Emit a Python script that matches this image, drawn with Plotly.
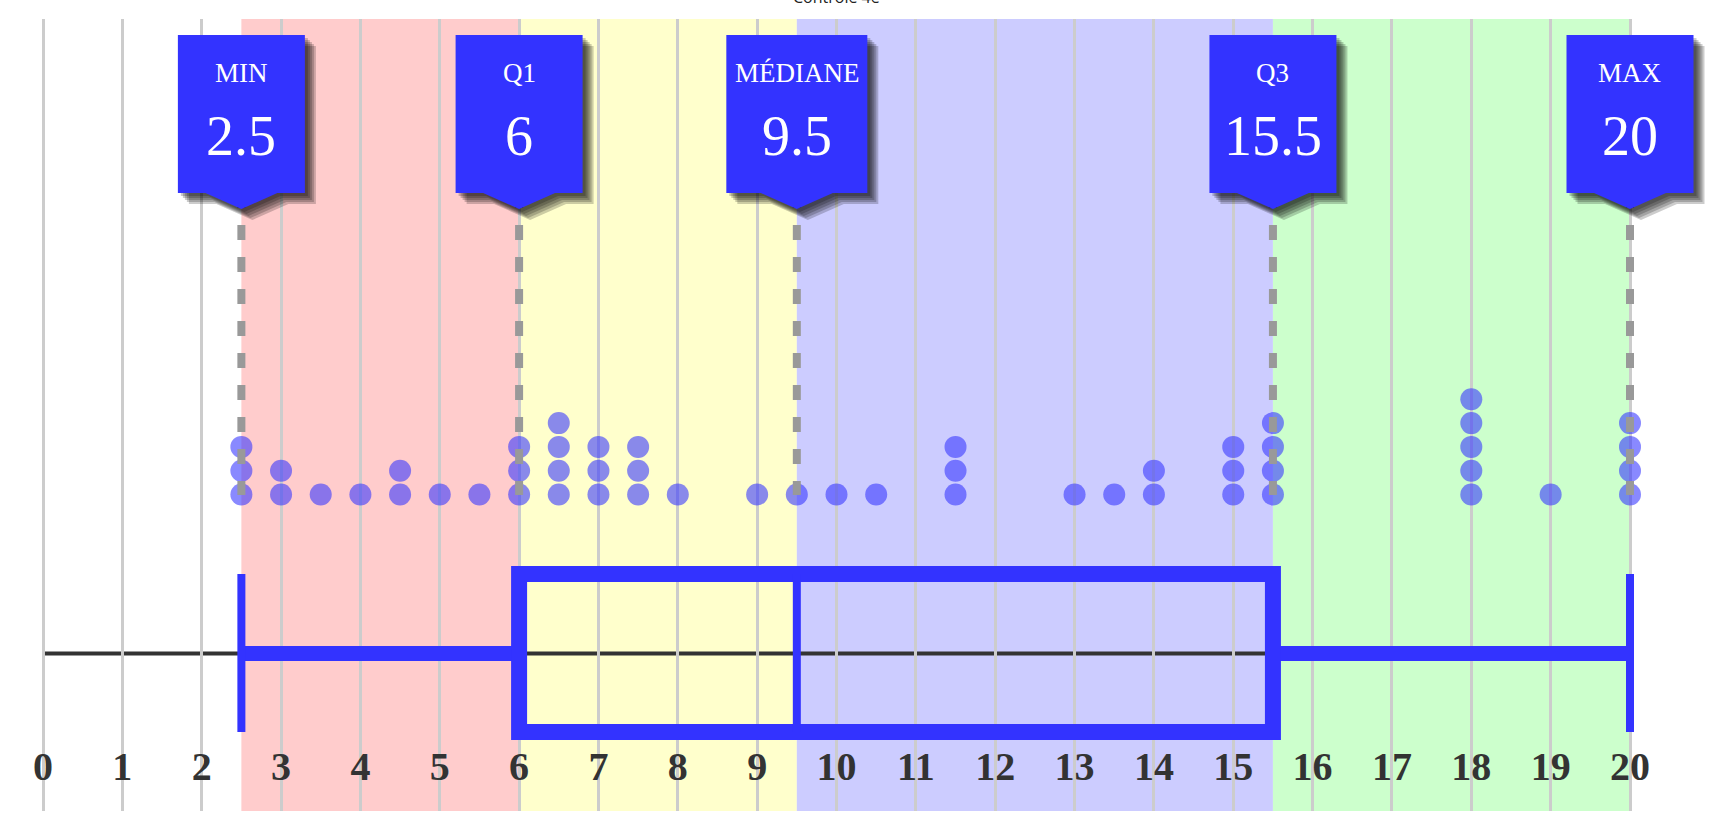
import numpy as np
import plotly.graph_objects as go

# ---------------- data ----------------
title_text = "Contrôle 4e"
scores = [2.5, 3, 3.5, 4, 4.5, 5, 5.5, 6, 6.5, 7, 7.5, 8, 9, 9.5, 10, 10.5,
          11.5, 13, 13.5, 14, 15, 15.5, 18, 19, 20]
counts = [3, 2, 1, 1, 2, 1, 1, 3, 4, 3, 3, 1, 1, 1, 1, 1,
          3, 1, 1, 2, 3, 4, 5, 1, 4]
tick_values = list(range(0, 21))
tick_labels = [str(v) for v in tick_values]
stat_labels = ["MIN", "Q1", "MÉDIANE", "Q3", "MAX"]
band_colors = ["#FFCCCC", "#FFFFCC", "#CCCCFF", "#CCFFCC"]

all_scores = np.repeat(np.array(scores, dtype=float), counts)
stats = [float(all_scores.min()),
         float(np.percentile(all_scores, 25)),
         float(np.median(all_scores)),
         float(np.percentile(all_scores, 75)),
         float(all_scores.max())]

# ---------------- geometry / style ----------------
W, H = 1720, 820
M_T, M_B = 19, 9
PLOT_H = H - M_T - M_B
X0_PX = 43.0
PX_PER_UNIT = 79.35
x_range = [-X0_PX / PX_PER_UNIT, (W - X0_PX) / PX_PER_UNIT]


def ypx(top_px):
    """page pixel (from top) -> y data value (y axis in pixel units)"""
    return H - M_B - top_px


BLUE = "#3333FF"
DOT_BASE = ypx(494.5)
DOT_STEP = 23.8
BOX_TOP, BOX_BOT = ypx(574), ypx(732)
BOX_MID = ypx(653.5)

dot_x, dot_y = [], []
for s, c in zip(scores, counts):
    for k in range(c):
        dot_x.append(s)
        dot_y.append(DOT_BASE + k * DOT_STEP)

fig = go.Figure()
fig.add_trace(go.Scatter(
    x=dot_x, y=dot_y, mode="markers",
    marker=dict(size=22, color=BLUE, opacity=0.58, line=dict(width=0)),
    hoverinfo="skip", showlegend=False, cliponaxis=False))

shapes = []
# colour bands
for i in range(4):
    shapes.append(dict(type="rect", xref="x", yref="paper", x0=stats[i], x1=stats[i + 1],
                       y0=0, y1=1, fillcolor=band_colors[i], line=dict(width=0), layer="below"))
# axis line through box
shapes.append(dict(type="line", xref="x", yref="y", x0=tick_values[0], x1=tick_values[-1],
                   y0=BOX_MID, y1=BOX_MID, line=dict(color="#333333", width=4), layer="below"))
# whiskers
shapes.append(dict(type="line", xref="x", yref="y", x0=stats[0], x1=stats[1],
                   y0=BOX_MID, y1=BOX_MID, line=dict(color=BLUE, width=15), layer="above"))
shapes.append(dict(type="line", xref="x", yref="y", x0=stats[3], x1=stats[4],
                   y0=BOX_MID, y1=BOX_MID, line=dict(color=BLUE, width=15), layer="above"))
# caps
for s in (stats[0], stats[4]):
    shapes.append(dict(type="line", xref="x", yref="y", x0=s, x1=s, y0=BOX_BOT, y1=BOX_TOP,
                       line=dict(color=BLUE, width=8), layer="above"))
# box
shapes.append(dict(type="rect", xref="x", yref="y", x0=stats[1], x1=stats[3], y0=BOX_BOT, y1=BOX_TOP,
                   line=dict(color=BLUE, width=16), fillcolor="rgba(0,0,0,0)", layer="above"))
# median
shapes.append(dict(type="line", xref="x", yref="y", x0=stats[2], x1=stats[2], y0=BOX_BOT, y1=BOX_TOP,
                   line=dict(color=BLUE, width=8), layer="above"))
# dashed guides
for s in stats:
    shapes.append(dict(type="line", xref="x", yref="y", x0=s, x1=s, y0=ypx(193), y1=ypx(495),
                       line=dict(color="#999999", width=8, dash="15px,17px"), layer="above"))


def callout_path(half_w, dx=0.0, dy=0.0):
    top, bot, tip = ypx(35) - dy, ypx(193) - dy, ypx(209) - dy
    pts = [(-half_w, top), (half_w, top), (half_w, bot), (36, bot), (0, tip),
           (-36, bot), (-half_w, bot)]
    return "M " + " L ".join(f"{x + dx:.1f},{y:.1f}" for x, y in pts) + " Z"


annotations = []
for s, lab in zip(stats, stat_labels):
    half_w = 70.5 if len(lab) > 5 else 63.5
    for d in (3, 5, 7, 9, 11):
        shapes.append(dict(type="path", xref="x", yref="y", xsizemode="pixel", xanchor=s,
                           path=callout_path(half_w, d, d), fillcolor="rgba(0,0,0,0.2)",
                           line=dict(width=0), layer="above"))
    shapes.append(dict(type="path", xref="x", yref="y", xsizemode="pixel", xanchor=s,
                       path=callout_path(half_w), fillcolor=BLUE, line=dict(width=0), layer="above"))
    annotations.append(dict(x=s, y=ypx(73.3), xref="x", yref="y", text=lab, showarrow=False,
                            font=dict(family="Liberation Serif", size=27, color="white"),
                            xanchor="center", yanchor="middle"))
    annotations.append(dict(x=s, y=ypx(136), xref="x", yref="y", text=f"{s:g}", showarrow=False,
                            font=dict(family="Liberation Serif", size=56, color="white"),
                            xanchor="center", yanchor="middle"))

annotations.append(dict(x=10, y=ypx(10) / PLOT_H, xref="x", yref="paper", text=title_text,
                        showarrow=False,
                        font=dict(family="Open Sans", size=16, color="#222222"),
                        xanchor="center", yanchor="bottom"))

fig.update_layout(
    width=W, height=H,
    margin=dict(l=0, r=0, t=M_T, b=M_B, pad=0),
    paper_bgcolor="white", plot_bgcolor="white",
    showlegend=False,
    shapes=shapes, annotations=annotations,
    xaxis=dict(range=x_range, tickmode="array", tickvals=tick_values, ticktext=tick_labels,
               showgrid=True, gridcolor="#cccccc", gridwidth=3, zeroline=False, showline=False,
               ticks="", ticklabelposition="inside", ticklabelstandoff=20,
               tickfont=dict(family="Liberation Serif", size=40, color="#333333", weight=700),
               fixedrange=True),
    yaxis=dict(range=[0, PLOT_H], visible=False, fixedrange=True),
)

fig.write_html("out.html")
